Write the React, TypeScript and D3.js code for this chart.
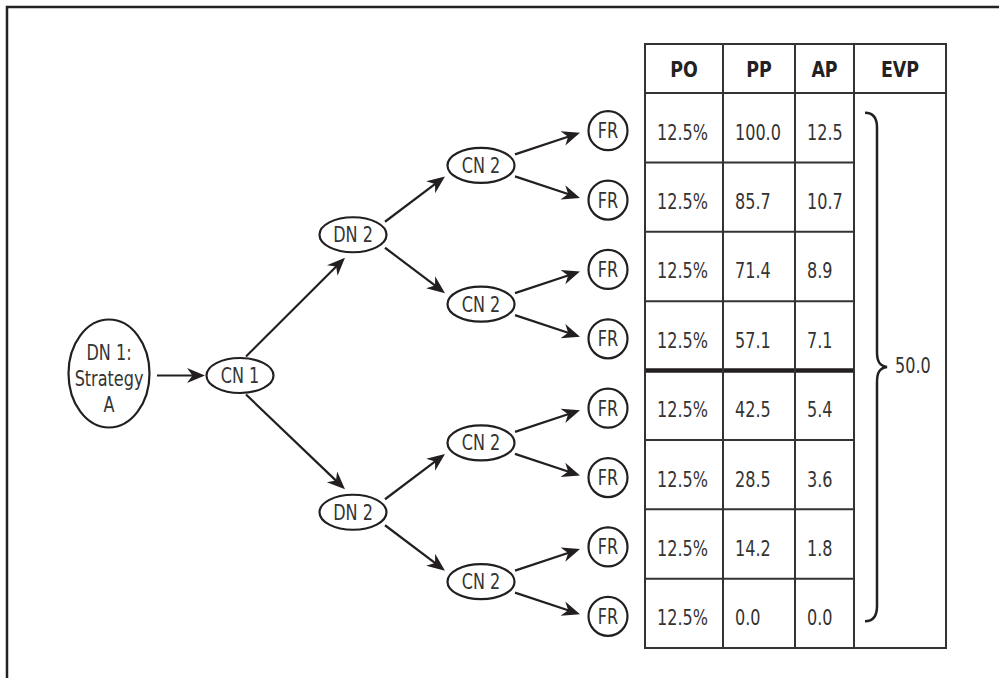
import React from 'react';
import * as d3 from 'd3';

// ---------- data ----------
const headers = ['PO', 'PP', 'AP', 'EVP'];
const poValues = ['12.5%', '12.5%', '12.5%', '12.5%', '12.5%', '12.5%', '12.5%', '12.5%'];
const ppValues = ['100.0', '85.7', '71.4', '57.1', '42.5', '28.5', '14.2', '0.0'];
const apValues = ['12.5', '10.7', '8.9', '7.1', '5.4', '3.6', '1.8', '0.0'];
const evpLabel = '50.0';
const levelLabels = [['DN 1:', 'Strategy', 'A'], ['CN 1'], ['DN 2'], ['CN 2'], ['FR']];
const branching = [1, 2, 2, 2];

// ---------- layout ----------
const W = 999;
const H = 678;
const FONT = "'DejaVu Sans Condensed', 'DejaVu Sans', sans-serif";
const INK = '#231f20';
const TEXT = '#333333';
const SX = 0.85;
const colEdges = [645, 723, 795, 854, 946];
const headerTop = 44;
const rowTop = 93;
const rowBottom = 648;
const levelX = [109, 240, 353, 481, 608];
// edge anchor offsets per source depth
const edgeAnchors = [
  { sx: 48, sy: 0, ex: -35, ey: 0 },
  { sx: 6, sy: 19, ex: -8, ey: 23 },
  { sx: 32, sy: 13, ex: -36, ey: 11 },
  { sx: 34, sy: 11, ex: -28, ey: 2 },
];

type TNode = { depth: number; children?: TNode[] };

function build(depth: number): TNode {
  if (depth >= branching.length) return { depth };
  const kids: TNode[] = [];
  for (let i = 0; i < branching[depth]; i++) kids.push(build(depth + 1));
  return { depth, children: kids };
}

function T(props: { x: number; y: number; children: any; anchor?: string; size?: number; bold?: boolean; fill?: string; sx?: number }) {
  const { x, y, children, anchor = 'start', size = 21, bold = false, fill = TEXT, sx = SX } = props;
  return (
    <g transform={`translate(${x},${y}) scale(${sx},1)`}>
      <text x={0} y={0} textAnchor={anchor} fontSize={size} fontWeight={bold ? 'bold' : 'normal'} fill={fill} fontFamily={FONT}>
        {children}
      </text>
    </g>
  );
}

export default function App() {
  const nRows = ppValues.length;
  const rowY = d3.scaleLinear().domain([0, nRows]).range([rowTop, rowBottom]);
  const xLevel = d3.scaleOrdinal<number, number>().domain([0, 1, 2, 3, 4]).range(levelX);

  const root = d3.hierarchy<TNode>(build(0), (d) => d.children);
  const leaves = root.leaves();
  leaves.forEach((l: any, i: number) => {
    l.y = rowY(i + 0.5) + 3;
  });
  root.eachAfter((n: any) => {
    n.x = xLevel(n.depth);
    if (n.children) n.y = (d3.mean(n.children, (c: any) => c.y) as number) + (n.depth <= 1 ? 2 : 0);
  });
  const nodes: any[] = root.descendants();
  const links: any[] = root.links();

  const arrows = links.map((lk: any, i: number) => {
    const s = lk.source;
    const t = lk.target;
    const a = edgeAnchors[s.depth];
    const sign = t.y > s.y ? 1 : t.y < s.y ? -1 : 0;
    const x1 = s.x + a.sx;
    const y1 = s.depth === 0 ? t.y : s.y + sign * a.sy;
    const x2 = t.x + a.ex;
    const y2 = t.y - sign * a.ey;
    const ang = Math.atan2(y2 - y1, x2 - x1);
    const lx = x2 - 11 * Math.cos(ang);
    const ly = y2 - 11 * Math.sin(ang);
    const deg = (ang * 180) / Math.PI;
    return (
      <g key={'a' + i}>
        <line x1={x1} y1={y1} x2={lx} y2={ly} stroke={INK} strokeWidth={2.2} />
        <path d="M0,0 L-18,-7.5 L-12.5,0 L-18,7.5 Z" fill={INK} transform={`translate(${x2},${y2}) rotate(${deg})`} />
      </g>
    );
  });

  const nodeEls = nodes.map((n: any, i: number) => {
    const lbl = levelLabels[n.depth];
    if (n.depth === 0) {
      return (
        <g key={'n' + i}>
          <ellipse cx={n.x} cy={n.y - 4} rx={40.5} ry={54} fill="#fff" stroke={INK} strokeWidth={2.2} />
          {lbl.map((t, j) => (
            <T key={j} x={n.x} y={n.y - 18 + j * 26} anchor="middle">
              {t}
            </T>
          ))}
        </g>
      );
    }
    if (n.depth === 4) {
      return (
        <g key={'n' + i}>
          <circle cx={n.x} cy={n.y} r={19.5} fill="#fff" stroke={INK} strokeWidth={2.2} />
          <T x={n.x} y={n.y + 7.5} anchor="middle">
            {lbl[0]}
          </T>
        </g>
      );
    }
    return (
      <g key={'n' + i}>
        <ellipse cx={n.x} cy={n.y} rx={33.5} ry={17.5} fill="#fff" stroke={INK} strokeWidth={2.2} />
        <T x={n.x} y={n.y + 7.5} anchor="middle">
          {lbl[0]}
        </T>
      </g>
    );
  });

  const tableLines: any[] = [];
  tableLines.push(<line key="h0" x1={colEdges[0]} x2={colEdges[4]} y1={headerTop} y2={headerTop} stroke="#333" strokeWidth={2} />);
  tableLines.push(<line key="h1" x1={colEdges[0]} x2={colEdges[4]} y1={rowTop} y2={rowTop} stroke="#333" strokeWidth={2} />);
  tableLines.push(<line key="hb" x1={colEdges[0]} x2={colEdges[4]} y1={rowBottom} y2={rowBottom} stroke="#333" strokeWidth={2} />);
  for (let i = 1; i < nRows; i++) {
    const thick = i === nRows / 2;
    tableLines.push(
      <line key={'r' + i} x1={colEdges[0]} x2={colEdges[3]} y1={rowY(i)} y2={rowY(i)} stroke={thick ? INK : '#333'} strokeWidth={thick ? 4.5 : 2} />
    );
  }
  colEdges.forEach((x, i) =>
    tableLines.push(<line key={'c' + i} x1={x} x2={x} y1={headerTop - 1} y2={rowBottom + 1} stroke="#333" strokeWidth={2} />)
  );

  const headerEls = headers.map((h, i) => (
    <T key={'hd' + i} x={(colEdges[i] + colEdges[i + 1]) / 2} y={77} anchor="middle" size={22} bold fill="#222" sx={0.88}>
      {h}
    </T>
  ));

  const cols = [poValues, ppValues, apValues];
  const cellEls = cols.flatMap((vals, c) =>
    vals.map((v, r) => (
      <T key={`cell${c}-${r}`} x={colEdges[c] + 12} y={rowY(r + 0.5) + 12}>
        {v}
      </T>
    ))
  );

  const bTop = rowY(0.3) - 1;
  const bBot = rowY(nRows - 0.4) + 1;
  const bMid = (bTop + bBot) / 2;
  const xe = 865, xv = 877, xt = 887;
  const brace = `M${xe},${bTop} C${xe + 8},${bTop} ${xv},${bTop + 5} ${xv},${bTop + 15} L${xv},${bMid - 15} C${xv},${bMid - 5} ${xv + 3},${bMid - 1} ${xt},${bMid} C${xv + 3},${bMid + 1} ${xv},${bMid + 5} ${xv},${bMid + 15} L${xv},${bBot - 15} C${xv},${bBot - 5} ${xe + 8},${bBot} ${xe},${bBot}`;

  return (
    <svg width={W} height={H} style={{ position: 'absolute', left: 0, top: 0, background: '#fff' }}>
      <rect x={0} y={0} width={W} height={H} fill="#fff" />
      <rect x={7} y={7} width={1200} height={1000} fill="none" stroke="#222" strokeWidth={2.5} />
      {arrows}
      {nodeEls}
      {tableLines}
      {headerEls}
      {cellEls}
      <path d={brace} fill="none" stroke={INK} strokeWidth={2.5} />
      <T x={895} y={bMid + 6}>
        {evpLabel}
      </T>
    </svg>
  );
}
